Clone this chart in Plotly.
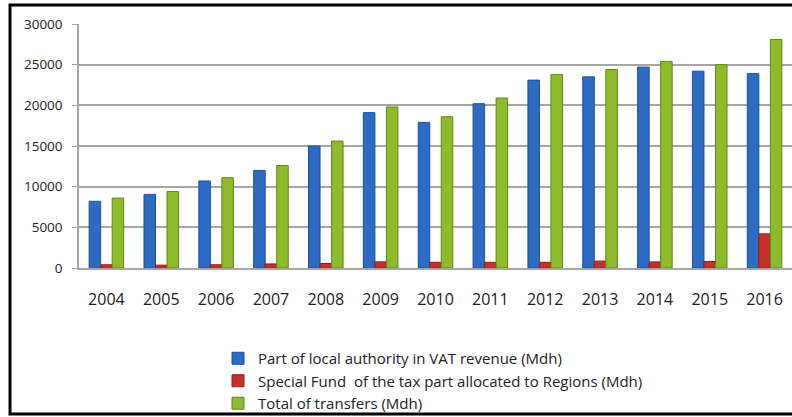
import plotly.graph_objects as go

years = ["2004", "2005", "2006", "2007", "2008", "2009", "2010",
         "2011", "2012", "2013", "2014", "2015", "2016"]
vat_part = [8200, 9050, 10700, 12000, 15000, 19100, 17900,
            20200, 23100, 23500, 24700, 24200, 23900]
special_fund = [400, 350, 400, 500, 550, 750, 700,
                700, 700, 850, 750, 800, 4200]
total_transfers = [8600, 9400, 11100, 12600, 15600, 19800, 18600,
                   20900, 23800, 24400, 25400, 25000, 28100]
y_ticks = [0, 5000, 10000, 15000, 20000, 25000, 30000]

names = ["Part of local authority in VAT revenue (Mdh)",
         "Special Fund  of the tax part allocated to Regions (Mdh)",
         "Total of transfers (Mdh)"]
colors = ["#2c6cc4", "#c8302c", "#8dbb2a"]
lines = ["#1d4f96", "#8e1f1c", "#62861a"]

fig = go.Figure()
for name, vals, c, lc in zip(names, [vat_part, special_fund, total_transfers], colors, lines):
    fig.add_trace(go.Bar(x=years, y=vals, name=name,
                         marker=dict(color=c, line=dict(color=lc, width=1))))

W, H = 792, 417
L, R, T, B = 79, 0, 24, 149
PW, PH = W - L - R, H - T - B


def px_x(x):
    return (x - L) / PW


def px_y(y):
    return (H - B - y) / PH


fig.update_layout(
    width=W, height=H,
    margin=dict(l=L, r=R, t=T, b=B, autoexpand=False),
    paper_bgcolor="white", plot_bgcolor="white",
    barmode="group", bargap=0.37, bargroupgap=0.0,
    font=dict(family="Open Sans", color="#222222"),
    showlegend=True,
    legend=dict(x=218 / W, y=1 - 342 / H, xref="container", yref="container",
                xanchor="left", yanchor="top",
                font=dict(size=15, family="Open Sans", color="#222222"),
                tracegroupgap=0, itemwidth=30, traceorder="normal",
                bgcolor="rgba(0,0,0,0)"),
    xaxis=dict(showline=True, linecolor="#a6a6a6", linewidth=2,
               tickfont=dict(size=16), ticks="", ticklabelstandoff=16,
               showgrid=False, automargin=False),
    yaxis=dict(range=[0, 30000], tickvals=y_ticks, tickformat="d", showgrid=True,
               gridcolor="#a6a6a6", gridwidth=2, showline=True,
               linecolor="#a6a6a6", linewidth=1.5, ticks="outside",
               ticklen=5, tickcolor="#a6a6a6", zeroline=False,
               tickfont=dict(size=13.5), ticklabelstandoff=7, automargin=False),
)

# black frame around the chart
fig.add_shape(type="rect", xref="paper", yref="paper",
              x0=px_x(10), x1=px_x(830), y0=px_y(414), y1=px_y(5),
              line=dict(color="black", width=3), layer="above")

fig.write_html("out.html", config={"displayModeBar": False},
               post_script="document.body.style.margin='0';")
